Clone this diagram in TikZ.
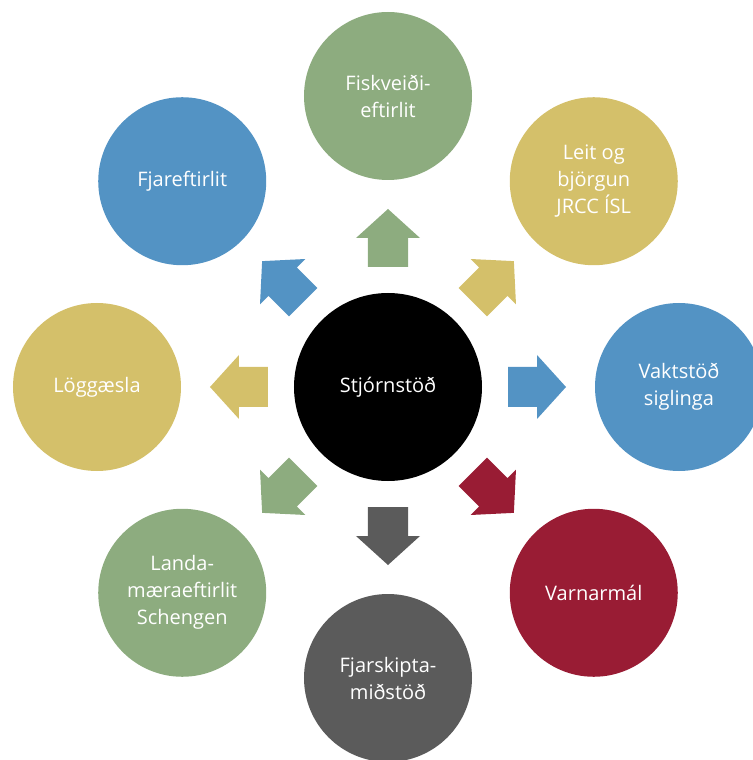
\documentclass[tikz,border=0pt]{standalone}
\usepackage{fontspec}
\setmainfont{Open Sans}
\begin{document}
\begin{tikzpicture}[x=1pt,y=1pt,
  outer/.style={circle,fill=#1,minimum size=168pt,inner sep=0pt,text=white,align=center,
    font=\fontsize{20}{27}\selectfont},
  blockarrow/.style={fill=#1}]
\definecolor{cgreen}{HTML}{8DAC7F}
\definecolor{cblue}{HTML}{5393C4}
\definecolor{cgold}{HTML}{D4C06A}
\definecolor{cred}{HTML}{991C34}
\definecolor{cgray}{HTML}{5B5B5B}
\useasboundingbox (-388,-373) rectangle (364,387);
\node[circle,fill=black,minimum size=188pt,inner sep=0pt,text=white,font=\fontsize{20}{27}\selectfont] (center) at (0,0) {Stjórnstöð};
\node[outer=cgreen] (fisk) at (90:291) {Fiskveiði-\\eftirlit};
\node[outer=cgold] (leit) at (45:291) {Leit og\\björgun\\JRCC ÍSL};
\node[outer=cblue] (vakt) at (0:291) {Vaktstöð\\siglinga};
\node[outer=cred] (varn) at (-45:291) {Varnarmál};
\node[outer=cgray] (fjar) at (-90:291) {Fjarskipta-\\miðstöð};
\node[outer=cgreen] (landa) at (-135:291) {Landa-\\mæraeftirlit\\Schengen};
\node[outer=cgold] (logg) at (180:291) {Löggæsla};
\node[outer=cblue] (fjare) at (135:291) {Fjareftirlit};
\foreach \ang/\col in {90/cgreen,45/cgold,0/cblue,-45/cred,-90/cgray,-135/cgreen,180/cgold,135/cblue}{
  \begin{scope}[rotate=\ang]
    \fill[blockarrow=\col] (120,-20) -- (149,-20) -- (149,-32) -- (178,0) -- (149,32) -- (149,20) -- (120,20) -- cycle;
  \end{scope}
}
\end{tikzpicture}
\end{document}
